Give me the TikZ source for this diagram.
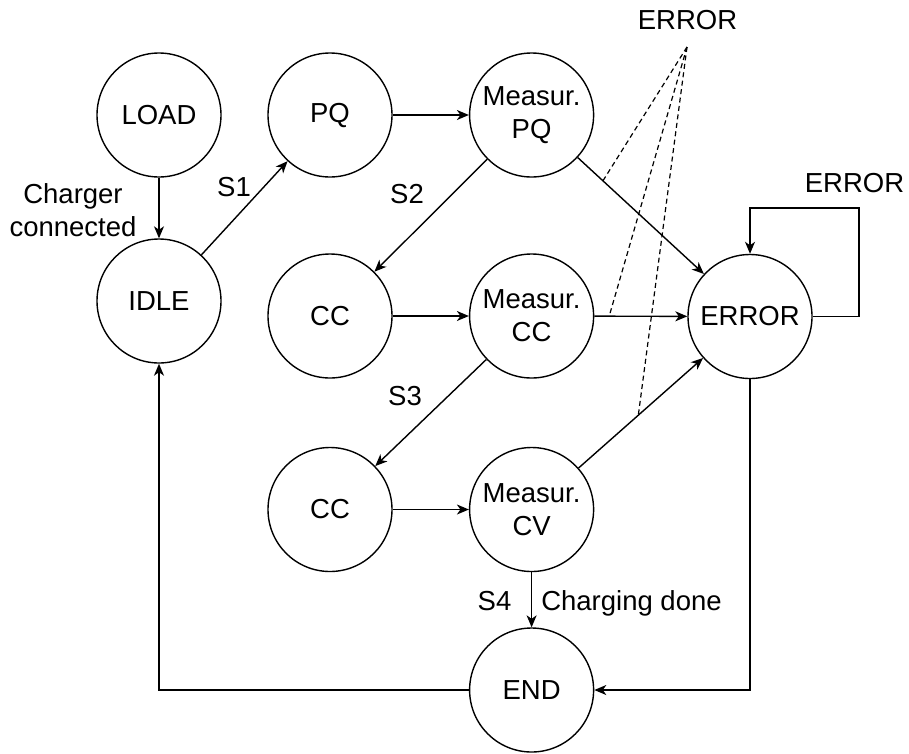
\documentclass[tikz,border=0pt]{standalone}
\usepackage{fontspec}
\setmainfont{Liberation Sans}
\usetikzlibrary{arrows.meta}

\begin{document}
\begin{tikzpicture}[x=1pt,y=-1pt,
  txt/.style={font=\fontsize{27.5}{33}\selectfont},
  state/.style={circle,draw,line width=1.4pt,minimum size=124pt,inner sep=0pt,align=center,txt},
  lbl/.style={txt,inner sep=0pt,anchor=base,align=center},
  conn/.style={line width=1.4pt,-{Stealth[length=12pt,width=10pt,inset=3.5pt]}},
  hint/.style={line width=1.2pt,dash pattern=on 5pt off 3.5pt}]
\useasboundingbox (0,0) rectangle (909,753);

% states
\node[state] (load) at (159,115) {LOAD};
\node[state] (pq)   at (330,115) {PQ};
\node[state] (mpq)  at (531.6,115) {Measur.\\PQ};
\node[state] (idle) at (159,301) {IDLE};
\node[state] (cc1)  at (330,316) {CC};
\node[state] (mcc)  at (531.6,316) {Measur.\\CC};
\node[state] (err)  at (750,316.5) {ERROR};
\node[state] (cc2)  at (330,509.5) {CC};
\node[state] (mcv)  at (531.6,509.5) {Measur.\\CV};
\node[state] (end)  at (531.6,690) {END};

% transitions
\draw[conn] (load) -- (idle);
\draw[conn] (idle) -- (pq);
\draw[conn] (pq) -- (mpq);
\draw[conn] (mpq) -- (cc1);
\draw[conn] (cc1) -- (mcc);
\draw[conn] (mcc) -- (cc2);
\draw[conn] (cc2) -- (mcv);
\draw[conn] (mpq) -- coordinate[pos=0.2] (e1) (err);
\draw[conn] (mcc) -- coordinate[pos=0.16] (e2) (err);
\draw[conn] (mcv) -- coordinate[pos=0.48] (e3) (err);
\draw[conn] (mcv) -- (end);
\draw[conn] (err.south) |- (end.east);
\draw[conn] (end.west) -| (idle.south);

% self loop on ERROR
\coordinate (loopr) at (858.8,208);
\draw[conn] (err.east) -| (loopr) -| (err.north);

% common error label with dashed leaders
\node[lbl] (errtxt) at (687.5,29.5) {ERROR};
\coordinate (fan) at (687,47);
\draw[hint] (fan) -- (e1);
\draw[hint] (fan) -- (e2);
\draw[hint] (fan) -- (e3);

% transition labels
\node[lbl] (chg) at (73,236) {Charger\\connected};
\node[lbl] (s1) at (234,196.5) {S1};
\node[lbl] (s2) at (407,203) {S2};
\node[lbl] (s3) at (405,405) {S3};
\node[lbl] (s4) at (494.5,610.5) {S4};
\node[lbl] (done) at (631.5,610.5) {Charging done};
\node[lbl] (errloop) at (854.5,192.7) {ERROR};
\end{tikzpicture}
\end{document}
